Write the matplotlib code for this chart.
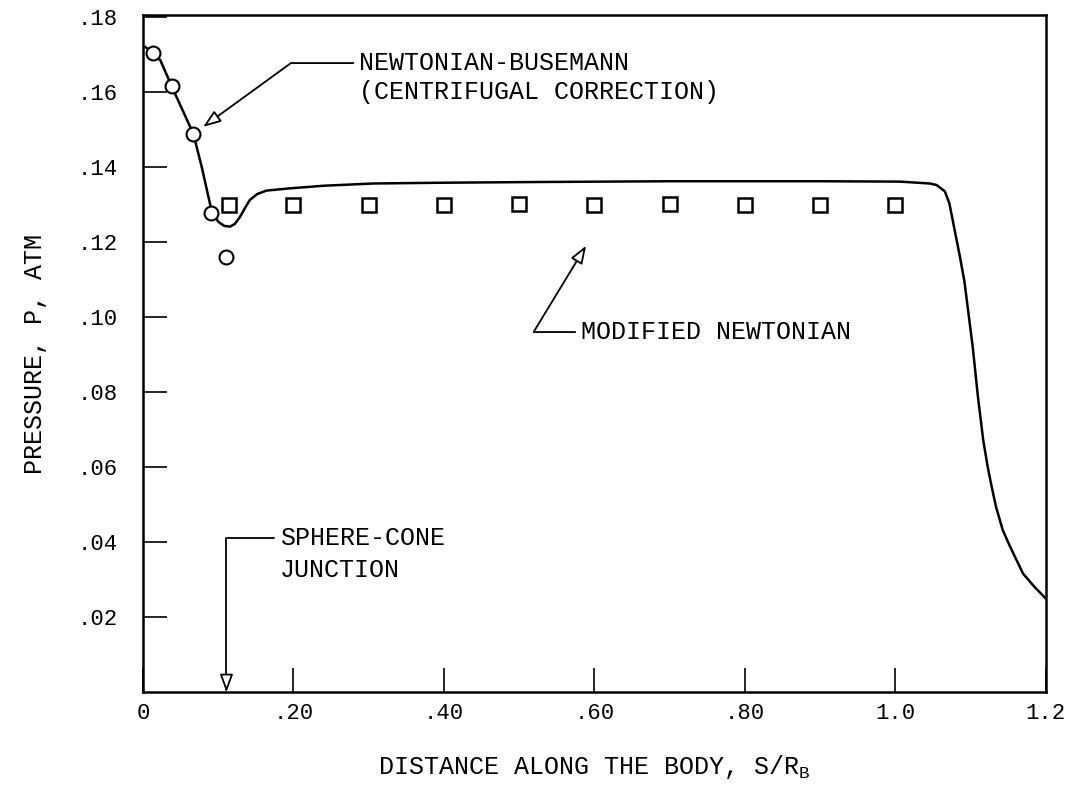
import matplotlib
matplotlib.use("Agg")
import matplotlib.pyplot as plt

plt.rcParams["font.family"] = ["Liberation Mono", "DejaVu Sans Mono"]
plt.rcParams["mathtext.fontset"] = "custom"
plt.rcParams["mathtext.rm"] = "Liberation Mono"

# Newtonian-Busemann points (circles)
nb_x = [0.0137, 0.038, 0.067, 0.091, 0.111]
nb_p = [0.1703, 0.1616, 0.1488, 0.1277, 0.1161]

# Modified Newtonian points (squares)
mn_x = [0.115, 0.20, 0.30, 0.40, 0.50, 0.60, 0.70, 0.80, 0.90, 1.00]
mn_p = [0.130, 0.130, 0.1298, 0.1298, 0.1302, 0.1299, 0.1301, 0.1298, 0.1298, 0.1298]

# faired curve through the data
curve_x = [0.003, 0.0137, 0.023, 0.038, 0.067, 0.078, 0.091, 0.100, 0.108, 0.1156,
           0.122, 0.129, 0.136, 0.142, 0.152, 0.164, 0.195, 0.240, 0.306, 0.395,
           0.528, 0.70, 0.90, 1.006, 1.046, 1.055, 1.066, 1.072, 1.079, 1.086,
           1.092, 1.103, 1.110, 1.117, 1.123, 1.128, 1.134, 1.143, 1.150, 1.157,
           1.170, 1.185, 1.200]
curve_p = [0.172, 0.1703, 0.1685, 0.1616, 0.1488, 0.1401, 0.1285, 0.1254, 0.1243, 0.1241,
           0.1248, 0.1267, 0.1292, 0.1312, 0.1328, 0.1337, 0.1343, 0.1350, 0.1356, 0.1358,
           0.1360, 0.1362, 0.1362, 0.1361, 0.1356, 0.1352, 0.1335, 0.1303, 0.1232, 0.1161,
           0.1095, 0.0921, 0.0787, 0.0672, 0.0600, 0.0550, 0.0494, 0.0432, 0.0400, 0.0370,
           0.0316, 0.0281, 0.0250]

x_ticks = [0, 0.2, 0.4, 0.6, 0.8, 1.0, 1.2]
x_labels = ["0", ".20", ".40", ".60", ".80", "1.0", "1.2"]
y_ticks = [0.02, 0.04, 0.06, 0.08, 0.10, 0.12, 0.14, 0.16, 0.18]
y_labels = [".02", ".04", ".06", ".08", ".10", ".12", ".14", ".16", ".18"]

fig = plt.figure(figsize=(10.67, 7.92), dpi=100)
ax = fig.add_axes([0.134, 0.126, 0.846, 0.855])

ax.plot(curve_x, curve_p, color="black", lw=1.8, zorder=2)
ax.plot(nb_x, nb_p, linestyle="none", marker="o", ms=10, mfc="white",
        mec="black", mew=1.5, zorder=3)
ax.plot(mn_x, mn_p, linestyle="none", marker="s", ms=10, mfc="white",
        mec="black", mew=1.8, zorder=3)

ax.set_xlim(0, 1.2)
ax.set_ylim(0, 0.1805)
ax.set_xticks(x_ticks)
ax.set_xticklabels(x_labels)
ax.set_yticks(y_ticks)
ax.set_yticklabels(y_labels)
ax.tick_params(axis="both", direction="in", length=17, width=1.2, labelsize=16)
ax.tick_params(axis="y", pad=18)
ax.tick_params(axis="x", pad=8)
for s in ax.spines.values():
    s.set_linewidth(1.8)

ax.set_xlabel("DISTANCE ALONG THE BODY, S/R$_{\\mathrm{B}}$", fontsize=18, labelpad=21)
ax.set_ylabel("PRESSURE, P, ATM", fontsize=18, labelpad=22)

arrow = dict(arrowstyle="-|>,head_length=0.6,head_width=0.22", fc="white",
             ec="black", lw=1.3, relpos=(0, 0.5), shrinkA=2, shrinkB=0)

ax.annotate("NEWTONIAN-BUSEMANN", xy=(0.080, 0.1507), xytext=(0.287, 0.1677),
            ha="left", va="center", fontsize=18,
            arrowprops=dict(arrow, connectionstyle="angle,angleA=0,angleB=36,rad=0"))
ax.text(0.287, 0.1600, "(CENTRIFUGAL CORRECTION)", ha="left", va="center", fontsize=18)

ax.annotate("MODIFIED NEWTONIAN", xy=(0.589, 0.119), xytext=(0.582, 0.096),
            ha="left", va="center", fontsize=18,
            arrowprops=dict(arrow, connectionstyle="angle,angleA=0,angleB=58.7,rad=0"))

ax.annotate("SPHERE-CONE", xy=(0.111, 0.0), xytext=(0.182, 0.041),
            ha="left", va="center", fontsize=18,
            arrowprops=dict(arrow, connectionstyle="angle,angleA=0,angleB=90,rad=0"))
ax.text(0.182, 0.0325, "JUNCTION", ha="left", va="center", fontsize=18)

fig.savefig("out.png", dpi=100)
